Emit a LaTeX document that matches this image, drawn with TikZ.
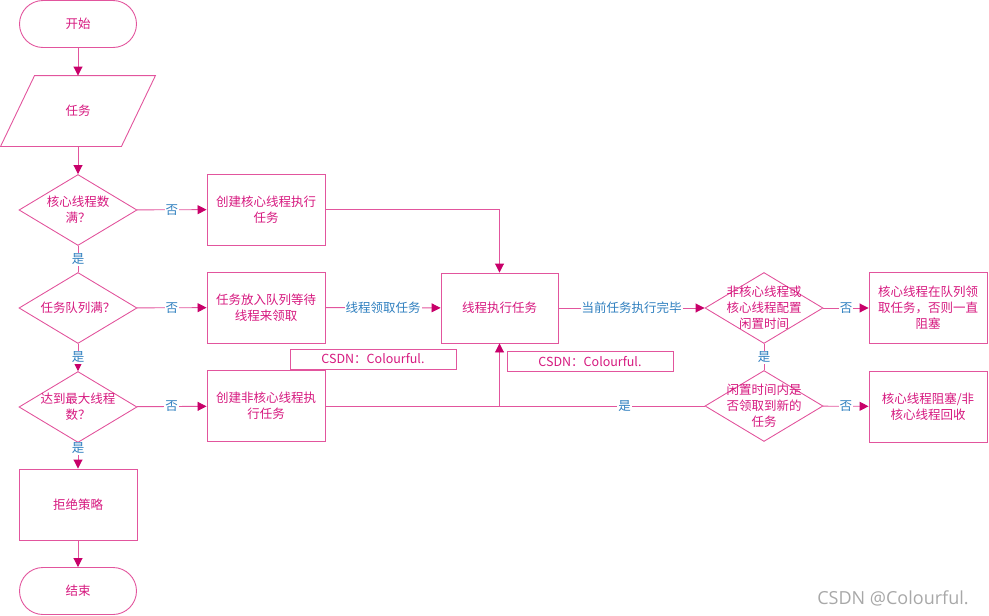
\documentclass[tikz,border=0pt]{standalone}
\usepackage{fontspec}
\newfontfamily\cjk{Noto Sans CJK SC}
\newfontfamily\wmfont{Open Sans}
\usetikzlibrary{arrows.meta,positioning,calc,shapes.geometric}
\definecolor{flowpink}{HTML}{E2559D}
\definecolor{tippink}{HTML}{C8006A}
\definecolor{textpink}{HTML}{D6197F}
\definecolor{labelblue}{HTML}{2F7FBF}
\definecolor{markgray}{HTML}{A8A8A8}
\tikzset{
  base/.style={draw=flowpink, line width=0.9pt, font=\cjk\fontsize{12.5}{16}\selectfont,
    text=textpink, align=center, inner sep=2pt},
  terminal/.style={base, minimum width=117pt, minimum height=47pt, rounded corners=23.5pt},
  proc/.style={base, minimum width=118pt, minimum height=71pt},
  decide/.style={draw=flowpink, line width=0.9pt, diamond, minimum width=118pt,
    minimum height=71pt, inner sep=0pt},
  dtext/.style={font=\cjk\fontsize{12.5}{16}\selectfont, text=textpink, align=center},
  tagbox/.style={base, fill=white, minimum width=166pt, minimum height=20pt, inner sep=0pt},
  link/.style={draw=flowpink, line width=0.9pt},
  flow/.style={link, -{Triangle[length=9pt,width=9pt,color=tippink]}},
  elabel/.style={font=\cjk\fontsize{12.5}{14}\selectfont, text=labelblue, fill=white, inner sep=1pt},
  wmark/.style={font=\wmfont\fontsize{18}{20}\selectfont, text=markgray},
}

\begin{document}
\begin{tikzpicture}[x=1pt,y=-1pt]
  \useasboundingbox (0,0) rectangle (989,616);
  % left column
  \node[terminal] (start) at (78,24) {开始};
  \node[base, draw=none, minimum width=120pt, minimum height=70pt] (task) at (78,111) {任务};
  \draw[link] ([xshift=17pt]task.north west) -- ([xshift=17pt]task.north east)
    -- ([xshift=-17pt]task.south east) -- ([xshift=-17pt]task.south west) -- cycle;
  \node[decide, label={[dtext]center:核心线程数\\满？}] (coreful) at (78,210) {};
  \node[decide, label={[dtext]center:任务队列满？}] (queueful) at (78,308) {};
  \node[decide, label={[dtext]center:达到最大线程\\数？}] (maxful) at (78,407) {};
  \node[proc] (reject) at (78,504.5) {拒绝策略};
  \node[terminal] (stop) at (78,591) {结束};
  % middle column
  \node[proc] (newcore) at (266,209.5) {创建核心线程执行\\任务};
  \node[proc] (enqueue) at (266,307.5) {任务放入队列等待\\线程来领取};
  \node[proc] (newextra) at (266,406) {创建非核心线程执\\行任务};
  \node[proc, minimum width=117pt, minimum height=70pt] (run) at (499.5,308) {线程执行任务};
  % right columns
  \node[decide, label={[dtext]center:非核心线程或\\核心线程配置\\闲置时间}] (idlecfg) at (764,308) {};
  \node[decide, label={[dtext]center:闲置时间内是\\否领取到新的\\任务}] (gotnew) at (764,406) {};
  \node[proc] (wait) at (928,308) {核心线程在队列领\\取任务，否则一直\\阻塞};
  \node[proc] (recycle) at (928,406.5) {核心线程阻塞/非\\核心线程回收};
  % watermarks
  \node[tagbox] (tagA) at (373,359) {CSDN：Colourful.};
  \node[tagbox] (tagB) at (590,361.5) {CSDN：Colourful.};
  \node[wmark] (mark) at (893,598) {CSDN @Colourful.};

  \coordinate (merge) at (run.south |- newextra.east);
  \draw[flow] (start) -- (task);
  \draw[flow] (task) -- (coreful);
  \draw[flow] (coreful) -- node[elabel] {否} (newcore);
  \draw[flow] (newcore.east) -| (run.north);
  \draw[link] (coreful) -- node[elabel] {是} (queueful);
  \draw[flow] (queueful) -- node[elabel] {否} (enqueue);
  \draw[flow] (enqueue) -- node[elabel] {线程领取任务} (run);
  \draw[flow] (queueful) -- node[elabel] {是} (maxful);
  \draw[flow] (maxful) -- node[elabel] {否} (newextra);
  \draw[flow] (maxful) -- node[elabel, pos=0.2] {是} (reject);
  \draw[flow] (reject) -- (stop);
  \draw[link] (newextra.east) -- (merge);
  \draw[link] (gotnew.west) -- node[elabel, pos=0.39] {是} (merge);
  \draw[flow] (merge) -- (run.south);
  \draw[flow] (run) -- node[elabel] {当前任务执行完毕} (idlecfg);
  \draw[flow] (idlecfg) -- node[elabel] {否} (wait);
  \draw[link] (idlecfg) -- node[elabel] {是} (gotnew);
  \draw[flow] (gotnew) -- node[elabel] {否} (recycle);
\end{tikzpicture}
\end{document}
